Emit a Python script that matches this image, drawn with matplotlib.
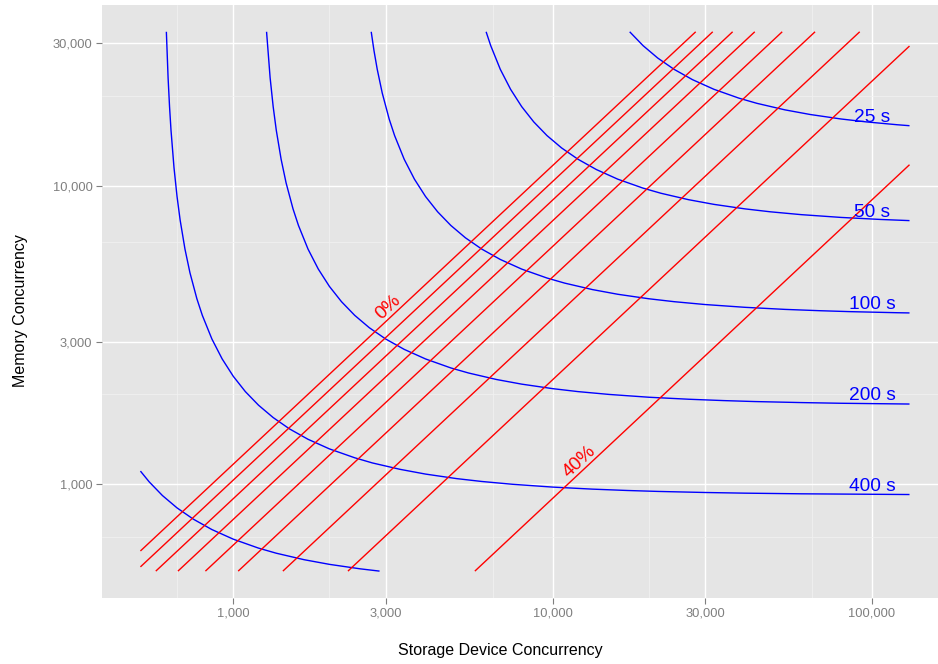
import numpy as np
import matplotlib
matplotlib.use("Agg")
import matplotlib.pyplot as plt
from matplotlib.ticker import FixedLocator, FuncFormatter, NullFormatter

plt.rcParams['font.family'] = ['Liberation Sans', 'DejaVu Sans']

# ---------------- data ----------------
x_ticks = [1000, 3000, 10000, 30000, 100000]
y_ticks = [1000, 3000, 10000, 30000]
x_minor = [666.67, 2000, 6500, 20000, 65000]
y_minor = [666.67, 2000, 6500, 20000]

x_title = "Storage Device Concurrency"
y_title = "Memory Concurrency"

# blue iso-time curves (x = storage concurrency, y = memory concurrency)
curve_labels = ["25 s", "50 s", "100 s", "200 s", "400 s", ""]

c25_x = [17430, 19200, 21333, 24000, 27429, 32000, 38400, 43636, 53333, 64000,
         80000, 96000, 120000, 131072]
c25_y = [32768, 29440, 26764, 24533, 22646, 21029, 19627, 18872, 17951, 17318,
         16727, 16356, 16000, 15883]

c50_x = [6190.4, 6400, 6857, 7385, 8000, 8727, 9600, 10667, 12000, 13714, 16000,
         19200, 21818, 26667, 32000, 40000, 48000, 60000, 80000, 106667, 131072]
c50_y = [32768, 29440, 24533, 21029, 18400, 16356, 14720, 13382, 12267, 11323, 10514,
         9813, 9436, 8976, 8659, 8364, 8178, 8000, 7830, 7707, 7640]

c100_x = [2703.6, 2758.6, 2823.5, 2926.8, 3076.9, 3200, 3428.6, 3692.3, 4000, 4363.6,
          4800, 5333, 6000, 6857, 8000, 9600, 10909, 13333, 16000, 20000, 24000,
          30000, 40000, 53333, 68571, 85714, 120000, 131072]
c100_y = [32768, 28308, 24533, 20444, 16727, 14720, 12267, 10514, 9200, 8178,
          7360, 6691, 6133, 5662, 5257, 4907, 4718, 4488, 4329, 4182, 4089,
          4000, 3915, 3853, 3814, 3786, 3755, 3749]

c200_x = [1271.3, 1304.3, 1333.3, 1363.6, 1411.8, 1463.4, 1538.5, 1600, 1714.3, 1846.2,
          2000, 2181.8, 2400, 2666.7, 3000, 3428.6, 4000, 4800, 5455, 6667, 8000,
          10000, 12000, 15000, 20000, 26667, 34286, 42857, 60000, 80000, 131072]
c200_y = [32768, 23000, 18400, 15333, 12267, 10222, 8364, 7360, 6133, 5257,
          4600, 4089, 3680, 3345, 3067, 2831, 2629, 2453, 2359, 2244, 2165,
          2091, 2044, 2000, 1957, 1927, 1907, 1893, 1878, 1868, 1857]

c400_x = [617.3, 625.0, 631.6, 638.3, 652.2, 666.7, 681.8, 705.9, 731.7, 769.2, 800,
          857.1, 923.1, 1000, 1090.9, 1200, 1333.3, 1500, 1714.3, 2000, 2400, 2727,
          3333, 4000, 5000, 6000, 7500, 10000, 13333, 17143, 21429, 30000, 40000,
          60000, 131072]
c400_y = [32768, 23000, 18400, 15333, 11500, 9200, 7667, 6133, 5111, 4182, 3680,
          3067, 2629, 2300, 2044, 1840, 1673, 1533, 1415, 1314, 1227, 1179,
          1122, 1082, 1045, 1022, 1000, 978.7, 963.4, 953.4, 946.5, 938.8, 934.0,
          929.3, 924.2]

c800_x = [512, 545.5, 600, 666.7, 750, 857.1, 1000, 1200, 1363.6, 1666.7, 2000, 2500, 2871]
c800_y = [1107.3, 1018.9, 917, 833.6, 764.2, 705.4, 655, 611.3, 587.8, 559.1, 539.4, 521, 512]

# red constant-percentage lines (start and end points)
pct_names = ["0%", "5%", "10%", "15%", "20%", "25%", "30%", "35%", "40%"]
line_x0 = [512, 512, 572, 671, 818, 1036, 1430, 2286, 5708]
line_y0 = [598, 529, 512, 512, 512, 512, 512, 512, 512]
line_x1 = [28055, 31721, 36612, 42946, 52345, 66332, 91531, 131072, 131072]
line_y1 = [32768, 32768, 32768, 32768, 32768, 32768, 32768, 29360, 11757]

# which red lines get a text label, and where along x
pct_label_idx = [0, 8]
pct_label_x = [3190, 12630]

# ---------------- figure ----------------
W, H = 938, 664
fig = plt.figure(figsize=(W / 100, H / 100), dpi=100)
fig.patch.set_facecolor("white")
ax = fig.add_axes([101.97 / W, (H - 598.08) / H, 846.0 / W, 593.26 / H])
ax.set_facecolor("#E5E5E5")
ax.set_xscale("log")
ax.set_yscale("log")

curves_x = [c25_x, c50_x, c100_x, c200_x, c400_x, c800_x]
curves_y = [c25_y, c50_y, c100_y, c200_y, c400_y, c800_y]

all_x = np.concatenate([np.array(c) for c in curves_x] + [line_x0, line_x1])
all_y = np.concatenate([np.array(c) for c in curves_y] + [line_y0, line_y1])
lx0, lx1 = np.log10(all_x.min()), np.log10(all_x.max())
ly0, ly1 = np.log10(all_y.min()), np.log10(all_y.max())
ex, ey = 0.05 * (lx1 - lx0), 0.05 * (ly1 - ly0)
ax.set_xlim(10 ** (lx0 - ex), 10 ** (lx1 + ex))
ax.set_ylim(10 ** (ly0 - ey), 10 ** (ly1 + ey))

BLUE = "#0000FF"
RED = "#FF0000"

for cx, cy in zip(curves_x, curves_y):
    ax.plot(cx, cy, color=BLUE, lw=1.0, solid_capstyle="butt", zorder=3)

for x0, y0, x1, y1 in zip(line_x0, line_y0, line_x1, line_y1):
    ax.plot([x0, x1], [y0, y1], color=RED, lw=1.0, solid_capstyle="butt", zorder=3)

# curve labels at x = 100,000 sitting on the right end of each curve
for lab, cx, cy in zip(curve_labels, curves_x, curves_y):
    if lab:
        ax.text(100000, cy[-1], lab, color=BLUE, fontsize=13.8,
                ha="center", va="bottom", zorder=4)

# percentage labels along their lines
for idx, lxp in zip(pct_label_idx, pct_label_x):
    x0, y0, x1, y1 = line_x0[idx], line_y0[idx], line_x1[idx], line_y1[idx]
    t = (np.log10(lxp) - np.log10(x0)) / (np.log10(x1) - np.log10(x0))
    lyp = 10 ** (np.log10(y0) + t * (np.log10(y1) - np.log10(y0)))
    p0 = ax.transData.transform((x0, y0))
    p1 = ax.transData.transform((x1, y1))
    ang = np.degrees(np.arctan2(p1[1] - p0[1], p1[0] - p0[0]))
    ax.text(lxp, lyp, pct_names[idx], color=RED, fontsize=13.8, rotation=ang,
            rotation_mode="anchor", ha="center", va="bottom", zorder=4)

# ticks & grid
fmt = FuncFormatter(lambda v, p: f"{int(round(v)):,}")
ax.xaxis.set_major_locator(FixedLocator(x_ticks))
ax.yaxis.set_major_locator(FixedLocator(y_ticks))
ax.xaxis.set_minor_locator(FixedLocator(x_minor))
ax.yaxis.set_minor_locator(FixedLocator(y_minor))
ax.xaxis.set_major_formatter(fmt)
ax.yaxis.set_major_formatter(fmt)
ax.xaxis.set_minor_formatter(NullFormatter())
ax.yaxis.set_minor_formatter(NullFormatter())
ax.tick_params(which="major", length=4.08, width=0.8, color="#7F7F7F",
               labelcolor="#7F7F7F", labelsize=9.3, pad=2.7)
ax.tick_params(which="minor", length=0)
ax.grid(which="major", color="white", lw=1.0)
ax.grid(which="minor", color="#F2F2F2", lw=0.5)
ax.set_axisbelow(True)
for s in ax.spines.values():
    s.set_visible(False)

fig.text(500 / W, (H - 651) / H, x_title, ha="center", va="center",
         fontsize=11.5, color="black")
fig.text(20 / W, (H - 311) / H, y_title, ha="center", va="center",
         rotation=90, fontsize=11.5, color="black")

fig.savefig("out.png", dpi=100)
